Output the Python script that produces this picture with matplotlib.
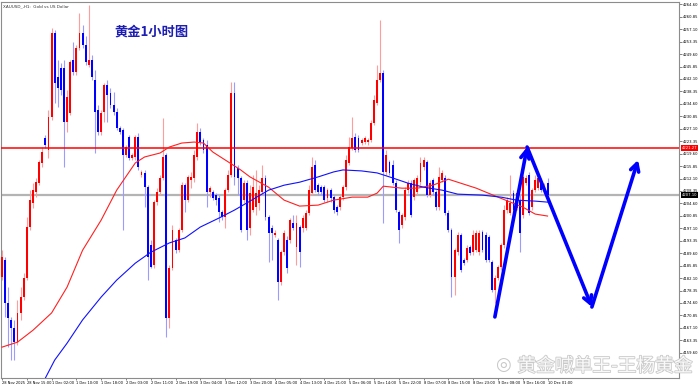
import numpy as np
import matplotlib
matplotlib.use("Agg")
import matplotlib.pyplot as plt
import matplotlib.patheffects as pe
from matplotlib.transforms import blended_transform_factory

plt.rcParams['font.family'] = ['Noto Sans CJK SC', 'DejaVu Sans']

# XAUUSD H1, one value per bar
opens = [4182.4, 4187.5, 4174.6, 4169.5, 4167.0, 4162.8, 4171.6, 4176.4, 4182.1, 4197.5,
         4204.7, 4208.0, 4210.7, 4216.8, 4224.3, 4220.7, 4230.6, 4256.0, 4242.7, 4245.4,
         4245.4, 4229.1, 4231.8, 4247.8, 4244.2, 4251.4, 4256.0, 4252.3, 4246.3, 4247.8,
         4241.8, 4232.7, 4226.1, 4232.1, 4240.3, 4237.9, 4234.3, 4232.1, 4227.3, 4226.7,
         4219.2, 4224.6, 4218.3, 4218.6, 4224.6, 4213.2, 4213.8, 4209.5, 4192.1, 4186.0,
         4205.0, 4208.0, 4212.2, 4219.2, 4170.1, 4185.1, 4193.6, 4190.5, 4196.6, 4210.1,
         4205.6, 4211.6, 4212.2, 4218.6, 4226.1, 4223.7, 4222.2, 4208.0, 4208.0, 4207.1,
         4206.2, 4202.0, 4200.5, 4208.6, 4213.2, 4237.9, 4215.3, 4212.2, 4205.6, 4210.7,
         4197.2, 4202.6, 4203.5, 4204.7, 4208.0, 4212.2, 4200.5, 4197.2, 4195.1, 4193.6,
         4180.9, 4189.9, 4193.6, 4193.6, 4198.7, 4191.5, 4197.5, 4197.2, 4197.2, 4201.7,
         4207.7, 4216.2, 4210.1, 4209.5, 4209.5, 4206.2, 4208.6, 4206.5, 4203.5, 4203.5,
         4206.5, 4209.5, 4216.8, 4221.3, 4224.6, 4224.3, 4222.8, 4223.1, 4223.1, 4223.7,
         4228.8, 4234.9, 4241.8, 4243.9, 4214.1, 4217.1, 4216.2, 4210.7, 4202.0, 4198.1,
         4200.5, 4208.6, 4210.7, 4206.5, 4208.0, 4211.0, 4215.6, 4217.1, 4207.1, 4211.6,
         4208.0, 4203.5, 4211.6, 4212.2, 4201.7, 4196.6, 4182.4, 4189.9, 4195.1, 4187.5,
         4187.5, 4191.5, 4189.9, 4190.5, 4189.9, 4196.0, 4195.1, 4194.5, 4186.9, 4178.5,
         4182.1, 4185.4, 4192.1, 4202.6, 4201.7, 4207.7, 4203.2, 4205.6, 4201.1, 4210.7,
         4213.2, 4203.5, 4208.6, 4209.2, 4210.7, 4207.7, 4210.7]
closes = [4188.4, 4174.6, 4170.1, 4167.0, 4162.8, 4171.6, 4176.4, 4182.1, 4197.5, 4205.6,
          4208.6, 4211.0, 4217.1, 4220.1, 4222.2, 4230.6, 4256.0, 4240.9, 4239.4, 4238.8,
          4229.1, 4236.7, 4247.2, 4244.2, 4251.4, 4256.0, 4252.3, 4247.2, 4247.8, 4242.7,
          4232.1, 4226.1, 4231.8, 4240.3, 4237.3, 4234.3, 4232.1, 4227.3, 4226.1, 4219.2,
          4221.6, 4218.3, 4219.2, 4224.6, 4215.6, 4214.1, 4209.5, 4188.4, 4185.4, 4205.0,
          4208.0, 4212.2, 4218.6, 4170.1, 4185.1, 4196.6, 4190.5, 4196.6, 4210.1, 4205.6,
          4212.6, 4212.6, 4219.2, 4226.1, 4223.1, 4220.7, 4208.0, 4209.2, 4206.2, 4205.6,
          4202.0, 4200.5, 4208.6, 4213.2, 4237.9, 4212.6, 4212.2, 4196.6, 4210.7, 4196.6,
          4207.7, 4209.5, 4207.7, 4208.6, 4212.2, 4200.5, 4195.7, 4195.7, 4195.7, 4180.9,
          4189.9, 4195.7, 4185.1, 4199.6, 4197.2, 4198.7, 4189.9, 4200.2, 4201.7, 4208.6,
          4215.6, 4208.6, 4208.0, 4208.0, 4205.6, 4208.6, 4206.2, 4202.6, 4202.0, 4206.5,
          4209.5, 4217.7, 4221.6, 4224.3, 4220.7, 4220.7, 4223.7, 4224.3, 4223.7, 4228.8,
          4235.8, 4241.8, 4243.9, 4214.1, 4219.2, 4213.8, 4210.7, 4202.6, 4196.6, 4201.1,
          4208.6, 4210.7, 4201.1, 4211.6, 4212.2, 4216.8, 4217.7, 4207.1, 4210.7, 4208.0,
          4203.5, 4212.6, 4213.8, 4201.7, 4196.6, 4182.4, 4190.5, 4195.1, 4184.5, 4186.6,
          4191.2, 4189.6, 4195.1, 4195.7, 4195.7, 4190.5, 4187.5, 4187.5, 4178.5, 4182.1,
          4185.4, 4192.1, 4202.6, 4205.6, 4204.7, 4202.6, 4207.7, 4195.7, 4212.6, 4212.2,
          4201.7, 4208.6, 4211.6, 4212.2, 4208.6, 4209.5, 4207.1]
highs = [4190.5, 4188.4, 4179.4, 4170.4, 4169.5, 4175.5, 4179.4, 4183.6, 4200.5, 4208.6,
         4210.7, 4212.2, 4217.7, 4221.6, 4225.2, 4232.7, 4257.5, 4256.9, 4247.8, 4246.9,
         4247.8, 4238.8, 4247.8, 4253.2, 4252.3, 4262.0, 4258.4, 4255.1, 4264.4, 4249.3,
         4244.8, 4234.3, 4232.7, 4240.9, 4241.8, 4239.4, 4238.2, 4233.4, 4227.9, 4227.3,
         4222.2, 4225.2, 4219.8, 4225.2, 4225.8, 4214.7, 4214.7, 4210.1, 4193.6, 4205.6,
         4209.2, 4213.2, 4230.3, 4219.8, 4186.0, 4198.1, 4194.2, 4197.2, 4211.0, 4210.7,
         4213.2, 4214.1, 4220.7, 4228.8, 4227.3, 4224.3, 4223.7, 4209.8, 4208.6, 4207.7,
         4207.1, 4202.6, 4209.2, 4214.7, 4241.2, 4241.2, 4216.2, 4212.9, 4211.6, 4211.6,
         4210.1, 4213.2, 4214.7, 4210.1, 4216.2, 4213.2, 4201.1, 4198.1, 4196.6, 4194.2,
         4190.5, 4196.6, 4194.8, 4200.2, 4201.1, 4201.1, 4198.1, 4201.1, 4202.6, 4210.1,
         4218.6, 4217.7, 4210.7, 4210.1, 4210.1, 4209.2, 4209.2, 4207.1, 4204.1, 4207.1,
         4210.1, 4219.2, 4224.6, 4230.6, 4225.8, 4225.2, 4224.3, 4224.9, 4224.3, 4229.7,
         4237.3, 4246.3, 4259.9, 4244.8, 4220.7, 4217.7, 4217.7, 4211.6, 4202.6, 4201.7,
         4209.5, 4211.6, 4211.6, 4212.2, 4213.2, 4218.6, 4218.6, 4217.7, 4211.6, 4212.2,
         4208.6, 4215.6, 4214.7, 4213.2, 4202.6, 4197.2, 4191.2, 4196.0, 4195.7, 4188.1,
         4192.1, 4192.1, 4196.6, 4196.6, 4196.6, 4196.6, 4196.0, 4195.1, 4187.5, 4183.0,
         4186.0, 4192.7, 4204.1, 4206.5, 4213.2, 4208.6, 4208.6, 4207.1, 4213.2, 4213.2,
         4214.1, 4209.2, 4213.2, 4212.6, 4212.2, 4210.7, 4212.2]
lows = [4181.5, 4170.4, 4161.3, 4157.4, 4157.4, 4161.9, 4169.5, 4175.5, 4181.5, 4196.6,
        4203.2, 4206.5, 4210.1, 4215.6, 4221.3, 4218.3, 4229.7, 4234.9, 4233.7, 4237.3,
        4215.6, 4226.1, 4231.2, 4243.3, 4243.3, 4250.8, 4251.5, 4246.3, 4245.7, 4241.8,
        4219.8, 4225.2, 4225.2, 4229.1, 4229.1, 4233.4, 4231.2, 4226.7, 4225.5, 4196.6,
        4218.6, 4217.7, 4217.7, 4217.7, 4214.7, 4212.6, 4203.5, 4181.5, 4185.1, 4185.1,
        4204.1, 4207.1, 4211.6, 4164.3, 4167.0, 4184.5, 4189.6, 4190.0, 4196.0, 4202.0,
        4205.0, 4209.2, 4211.0, 4217.7, 4222.2, 4219.8, 4203.5, 4206.5, 4205.6, 4204.1,
        4199.0, 4199.6, 4197.2, 4208.0, 4212.6, 4210.1, 4207.1, 4196.0, 4204.7, 4193.6,
        4195.1, 4202.0, 4201.1, 4202.6, 4207.1, 4199.6, 4186.9, 4187.5, 4194.5, 4175.5,
        4180.0, 4189.0, 4183.6, 4192.7, 4196.6, 4186.0, 4185.4, 4196.0, 4196.6, 4201.1,
        4207.1, 4208.0, 4207.1, 4207.1, 4205.0, 4205.0, 4205.0, 4201.7, 4201.1, 4202.6,
        4205.6, 4208.6, 4216.2, 4220.7, 4220.1, 4220.1, 4222.2, 4222.5, 4222.2, 4223.1,
        4228.2, 4234.3, 4241.2, 4198.7, 4213.2, 4213.2, 4210.1, 4202.0, 4192.7, 4197.2,
        4199.6, 4207.7, 4200.5, 4205.6, 4207.1, 4210.1, 4214.7, 4206.5, 4206.5, 4207.1,
        4202.6, 4202.6, 4211.0, 4201.1, 4196.0, 4176.4, 4177.0, 4189.0, 4183.9, 4186.0,
        4186.9, 4189.0, 4189.0, 4190.0, 4189.0, 4190.0, 4186.9, 4186.9, 4177.9, 4174.6,
        4181.5, 4184.5, 4191.2, 4201.7, 4201.1, 4201.7, 4202.6, 4190.0, 4200.2, 4210.1,
        4201.1, 4202.6, 4208.0, 4208.6, 4208.0, 4207.1, 4206.5]

# moving averages, read at these bar numbers
red_ma_bar = [0, 5, 10, 16, 21, 26, 32, 37, 43, 46, 51, 54, 58, 62, 65, 68, 73, 77, 80, 86,
              91, 96, 102, 107, 113, 118, 121, 123, 129, 134, 139, 144, 147, 153, 160, 164,
              168, 172, 176]
red_ma = [4161.3, 4162.8, 4166.4, 4171.6, 4179.4, 4190.5, 4199.6, 4208.6, 4216.8, 4218.6,
          4219.8, 4221.6, 4222.8, 4223.1, 4222.8, 4220.1, 4217.1, 4214.7, 4212.6, 4209.5,
          4205.6, 4203.8, 4204.1, 4205.6, 4206.5, 4206.5, 4207.7, 4209.8, 4209.2, 4209.2,
          4210.1, 4211.9, 4211.0, 4209.2, 4206.5, 4205.0, 4203.5, 4201.4, 4200.8]
blue_ma_bar = [14, 17, 21, 26, 32, 37, 43, 48, 54, 59, 64, 70, 75, 80, 86, 91, 96, 102, 107,
               110, 116, 121, 125, 131, 136, 142, 147, 155, 161, 166, 172, 176]
blue_ma = [4152.0, 4157.4, 4162.5, 4169.5, 4176.4, 4181.5, 4186.6, 4189.9, 4192.7, 4194.2,
           4197.5, 4200.2, 4202.6, 4205.3, 4208.6, 4210.1, 4211.0, 4212.6, 4214.1, 4214.7,
           4214.4, 4213.8, 4212.6, 4210.7, 4209.5, 4208.6, 4207.4, 4207.1, 4206.5, 4205.6,
           4205.3, 4205.0]

resistance = 4221.27
last_price = 4207.10

# hand-drawn forecast path (bar, price)
path_bar = [159.0, 169.4, 190.3, 205.2]
path_price = [4170.4, 4221.6, 4173.4, 4217.7]

tick_labels = ["28 Nov 2025", "28 Nov 15:00", "1 Dec 02:00", "1 Dec 10:00", "1 Dec 18:00",
               "2 Dec 03:00", "2 Dec 11:00", "2 Dec 19:00", "3 Dec 04:00", "3 Dec 12:00",
               "3 Dec 20:00", "4 Dec 05:00", "4 Dec 13:00", "4 Dec 21:00", "5 Dec 06:00",
               "5 Dec 14:00", "5 Dec 22:00", "8 Dec 07:00", "8 Dec 15:00", "8 Dec 23:00",
               "9 Dec 08:00", "9 Dec 16:00", "10 Dec 01:00"]

o = np.array(opens)
c = np.array(closes)
h = np.maximum(np.array(highs), np.maximum(o, c))
l = np.minimum(np.array(lows), np.minimum(o, c))
x = np.arange(len(c))
up = c >= o

fig = plt.figure(figsize=(7, 3.85), dpi=100)
ax = fig.add_axes([1 / 700, 7 / 385, 678 / 700, 376 / 385])
ax.set_facecolor('white')

# horizontal levels
ax.axhline(last_price, color='#b4b4b4', lw=1.6, zorder=1)
ax.axhline(resistance, color='#ff0000', lw=1.1, zorder=4)

# wicks
ax.vlines(x[up], l[up], h[up], color='#ff9c9c', lw=0.8, zorder=2)
ax.vlines(x[~up], l[~up], h[~up], color='#9c9cff', lw=0.8, zorder=2)
# bodies
body = np.maximum(np.abs(c - o), 0.35)
ax.bar(x[up], body[up], bottom=np.minimum(o, c)[up], width=0.62, color='#ff0000', lw=0, zorder=3)
ax.bar(x[~up], body[~up], bottom=np.minimum(o, c)[~up], width=0.62, color='#0000ff', lw=0, zorder=3)

# moving averages
ax.plot(red_ma_bar, red_ma, color='#ff2020', lw=0.8, zorder=4)
ax.plot(blue_ma_bar, blue_ma, color='#1010ff', lw=0.8, zorder=4)

# forecast arrows
for i in range(3):
    ax.annotate('', xy=(path_bar[i + 1], path_price[i + 1]), xytext=(path_bar[i], path_price[i]),
                arrowprops=dict(arrowstyle='->,head_length=0.55,head_width=0.3', color='#0000ff',
                                lw=2.6, shrinkA=0, shrinkB=0), zorder=6)

ax.set_xlim(-0.32, 218.4)
ax.set_ylim(4152.0, 4265.3)

# axes styling (MT4 look)
for s in ax.spines.values():
    s.set_color('#8c8c8c')
    s.set_linewidth(0.8)
ax.yaxis.tick_right()
yt = [4159.60 + 3.75 * k for k in range(29)]
ax.set_yticks(yt)
ax.set_yticklabels(['%.2f' % v for v in yt], fontsize=2.7, family='DejaVu Sans')
ax.tick_params(axis='y', length=2, width=0.5, color='#505050', pad=0.8)
ax.set_xticks(np.arange(len(tick_labels)) * 8)
ax.set_xticklabels(tick_labels, fontsize=2.6, family='DejaVu Sans', ha='left')
ax.tick_params(axis='x', length=1.5, width=0.5, color='#505050', pad=0.3)

# price tags on the right scale
tr = blended_transform_factory(ax.transAxes, ax.transData)
ax.text(1.004, resistance, '%.2f' % resistance, transform=tr, fontsize=2.7, color='white',
        va='center', ha='left', family='DejaVu Sans',
        bbox=dict(boxstyle='square,pad=0.2', fc='#ff0000', ec='none'), clip_on=False)
ax.text(1.004, last_price, '%.2f' % last_price, transform=tr, fontsize=2.7, color='white',
        va='center', ha='left', family='DejaVu Sans',
        bbox=dict(boxstyle='square,pad=0.2', fc='black', ec='none'), clip_on=False)

# texts
ax.text(0.003, 0.993, 'XAUUSD_,H1:  Gold vs US Dollar', transform=ax.transAxes, fontsize=3.0,
        va='top', ha='left', color='#333333', family='DejaVu Sans')
fig.text(151 / 700, 1 - 32 / 385, '黄金1小时图', fontsize=9.5, fontweight='bold',
         color='#1e1eb4', ha='center', va='center')

# watermark
wm = fig.text(605 / 700, 1 - 366 / 385, '黄金喊单王-王杨黄金', fontsize=13.5, color='white',
              ha='center', va='center', alpha=0.9)
wm.set_path_effects([pe.withStroke(linewidth=1.2, foreground='#c4c4c4')])
logo = fig.text(503 / 700, 1 - 365 / 385, '◎', fontsize=13, color='#c8c8c8',
                ha='center', va='center', family='DejaVu Sans')

fig.savefig('out.png', dpi=100, facecolor='white')
